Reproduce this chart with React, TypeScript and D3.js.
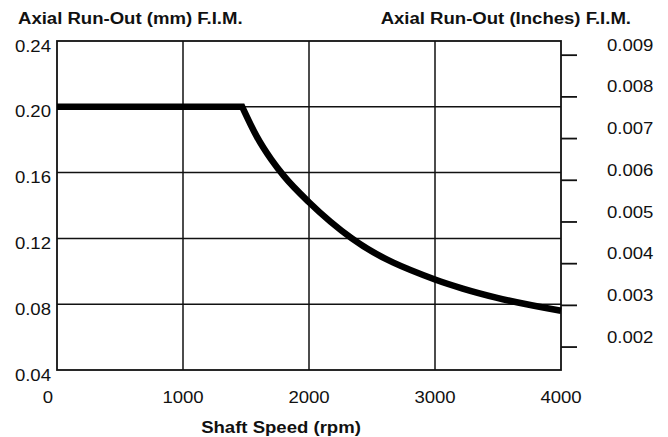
import * as d3 from 'd3';
import React from 'react';

// shaft speed (rpm) vs axial run-out (mm)
const speeds = [0, 1000, 1470, 1585, 1700, 1800, 2000, 2340, 3000, 3220, 3485, 4000];
const runOut = [0.2, 0.2, 0.2, 0.182, 0.168, 0.158, 0.142, 0.12, 0.095, 0.0895, 0.084, 0.076];

const xTicks = [0, 1000, 2000, 3000, 4000];
const mmTicks = [0.04, 0.08, 0.12, 0.16, 0.2, 0.24];
const inchTicks = [0.002, 0.003, 0.004, 0.005, 0.006, 0.007, 0.008, 0.009];

const W = 668;
const H = 437;
const margin = { top: 41, right: 107, bottom: 67, left: 57 };
const FONT = "'Liberation Sans', Arial, Helvetica, sans-serif";
const SX = 1.16; // glyphs in the picture are stretched horizontally

const Label = ({ x, y, anchor = 'start', bold = false, children }: any) => (
  <text
    transform={`translate(${x},${y}) scale(${SX},1)`}
    textAnchor={anchor}
    dominantBaseline="central"
    fontFamily={FONT}
    fontSize={16}
    fontWeight={bold ? 'bold' : 'normal'}
    fill="#111"
  >
    {children}
  </text>
);

export default function App() {
  const x0 = margin.left;
  const x1 = W - margin.right;
  const y0 = H - margin.bottom;
  const y1 = margin.top;

  const x = d3.scaleLinear().domain([0, 4000]).range([x0, x1]);
  const y = d3.scaleLinear().domain([0.04, 0.24]).range([y0, y1]);
  const yIn = d3.scaleLinear().domain([0.00145, 0.00934]).range([y0, y1]);

  const data = speeds.map((s, i) => [s, runOut[i]] as [number, number]);
  const maxV = d3.max(runOut) as number;
  // knee = last point of the flat part; the falling part is a smooth curve
  const knee = d3.max(data.filter((d) => d[1] === maxV).map((_, i) => i)) as number;
  const flat = data.slice(0, knee + 1);
  const falling = data.slice(knee);

  const flatPath = d3
    .line<[number, number]>()
    .x((d) => x(d[0]))
    .y((d) => y(d[1]))(flat) || '';
  const curvePath = d3
    .line<[number, number]>()
    .x((d) => x(d[0]))
    .y((d) => y(d[1]))
    .curve(d3.curveMonotoneX)(falling) || '';
  const pathD = flatPath + curvePath.replace(/^M[^CL]*/, '');

  return (
    <svg
      width={W}
      height={H}
      style={{ position: 'absolute', left: 0, top: 0, background: '#fff' }}
    >
      {/* grid */}
      {xTicks.slice(1, -1).map((t) => (
        <line key={'gx' + t} x1={x(t)} x2={x(t)} y1={y0} y2={y1} stroke="#111" strokeWidth={1.5} />
      ))}
      {mmTicks.slice(1, -1).map((t) => (
        <line key={'gy' + t} x1={x0} x2={x1} y1={y(t)} y2={y(t)} stroke="#111" strokeWidth={1.5} />
      ))}
      <rect x={x0} y={y1} width={x1 - x0} height={y0 - y1} fill="none" stroke="#111" strokeWidth={1.8} />

      {/* right inch ticks */}
      {inchTicks.map((t) => (
        <line key={'ri' + t} x1={x1} x2={x1 + 16} y1={yIn(t)} y2={yIn(t)} stroke="#111" strokeWidth={1.8} />
      ))}

      <path d={pathD} fill="none" stroke="#000" strokeWidth={6.5} />

      {/* left labels */}
      {mmTicks.map((t) => (
        <Label key={'ly' + t} x={51} y={y(t) + 5} anchor="end">
          {t.toFixed(2)}
        </Label>
      ))}
      {/* right labels */}
      {inchTicks.map((t) => (
        <Label key={'ry' + t} x={607} y={yIn(t) - 10}>
          {t.toFixed(3)}
        </Label>
      ))}
      {/* bottom labels */}
      {xTicks.map((t) => (
        <Label key={'lx' + t} x={x(t) - (t === 0 ? 9 : 0)} y={397} anchor="middle">
          {t}
        </Label>
      ))}

      <Label x={18} y={18} bold>
        Axial Run-Out (mm) F.I.M.
      </Label>
      <Label x={631} y={18} anchor="end" bold>
        Axial Run-Out (Inches) F.I.M.
      </Label>
      <Label x={281} y={427} anchor="middle" bold>
        Shaft Speed (rpm)
      </Label>
    </svg>
  );
}
